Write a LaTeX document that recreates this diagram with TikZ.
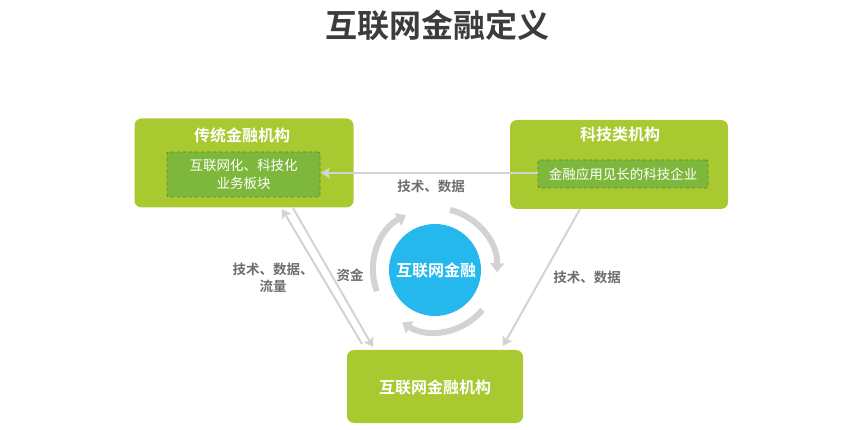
\documentclass[tikz,border=0pt]{standalone}
\usepackage{fontspec}
\setmainfont{Noto Sans CJK SC}
\newfontfamily\cjkb{Noto Sans CJK SC Bold}
\usetikzlibrary{arrows.meta}
\definecolor{boxgreen}{HTML}{A8C930}
\definecolor{innergreen}{HTML}{7DB83C}
\definecolor{dashgreen}{HTML}{5E8A2C}
\definecolor{cyanball}{HTML}{25B8EC}
\definecolor{arrowgray}{HTML}{D3D3D3}
\definecolor{labelgray}{HTML}{6E6E6E}
\definecolor{titlegray}{HTML}{3C3C3C}
\tikzset{
  outerbox/.style={fill=boxgreen, rounded corners=7pt, draw=none},
  innerbox/.style={fill=innergreen, draw=dashgreen, dashed, line width=0.8pt, rounded corners=2pt, text=white, align=center, font=\fontsize{13.5}{18}\selectfont},
  boxtitle/.style={text=white, font=\cjkb\fontsize{16}{20}\selectfont},
  lbl/.style={text=labelgray, font=\cjkb\fontsize{13.5}{17}\selectfont, align=center},
  conn/.style={draw=arrowgray, line width=2pt, -{Stealth[length=9pt,width=11pt,inset=2pt]}},
  cyc/.style={draw=arrowgray, line width=6pt, -{Triangle[length=9pt,width=14pt]}}
}
\begin{document}
\begin{tikzpicture}[x=1pt,y=-1pt]
\useasboundingbox (0,0) rectangle (865,430);
% title
\node[text=titlegray, font=\cjkb\fontsize{32}{36}\selectfont] (title) at (437,25) {互联网金融定义};
% left box
\node[outerbox, minimum width=219pt, minimum height=89pt] (trad) at (244,163) {};
\node[boxtitle] (tradt) at (242,135) {传统金融机构};
\node[innerbox, minimum width=153pt, minimum height=45pt, inner sep=2pt] (tradi) at (243.5,174.5) {互联网化、科技化\\业务板块};
% right box
\node[outerbox, minimum width=218pt, minimum height=89pt] (tech) at (619,164.5) {};
\node[boxtitle] (techt) at (620,134) {科技类机构};
\node[innerbox, minimum width=170pt, minimum height=28pt, inner sep=2pt] (techi) at (623,174) {金融应用见长的科技企业};
% bottom box
\node[outerbox, minimum width=176pt, minimum height=73pt] (inet) at (435,386.5) {};
\node[boxtitle] (inett) at (435,387) {互联网金融机构};
% circle
\node[circle, fill=cyanball, minimum size=92pt, inner sep=0pt] (ball) at (435,270) {};
\node[text=white, font=\cjkb\fontsize{16}{20}\selectfont] (ballt) at (436,270) {互联网金融};
% cycle arrows (angles in flipped-y frame)
\draw[cyc] ([shift={(160:62)}]ball.center) arc[start angle=160, end angle=242, radius=62];
\draw[cyc] ([shift={(284:62)}]ball.center) arc[start angle=284, end angle=362, radius=62];
\draw[cyc] ([shift={(40:62)}]ball.center) arc[start angle=40, end angle=122, radius=62];
% connectors
\coordinate (hA) at (538,173);
\coordinate (hB) at (321,173);
\draw[conn] (hA) -- (hB);
\node[lbl] (l1) at (431,186) {技术、数据};
\coordinate (a1) at (362,344);
\coordinate (a2) at (282,209);
\draw[conn] (a1) -- (a2);
\coordinate (b1) at (293,208);
\coordinate (b2) at (373,347);
\draw[conn] (b1) -- (b2);
\node[lbl] (l2) at (273,278) {技术、数据、\\流量};
\node[lbl] (l3) at (350,275) {资金};
\coordinate (c1) at (580,209);
\coordinate (c2) at (503,346);
\draw[conn] (c1) -- (c2);
\node[lbl] (l4) at (587,277) {技术、数据};
\end{tikzpicture}
\end{document}
